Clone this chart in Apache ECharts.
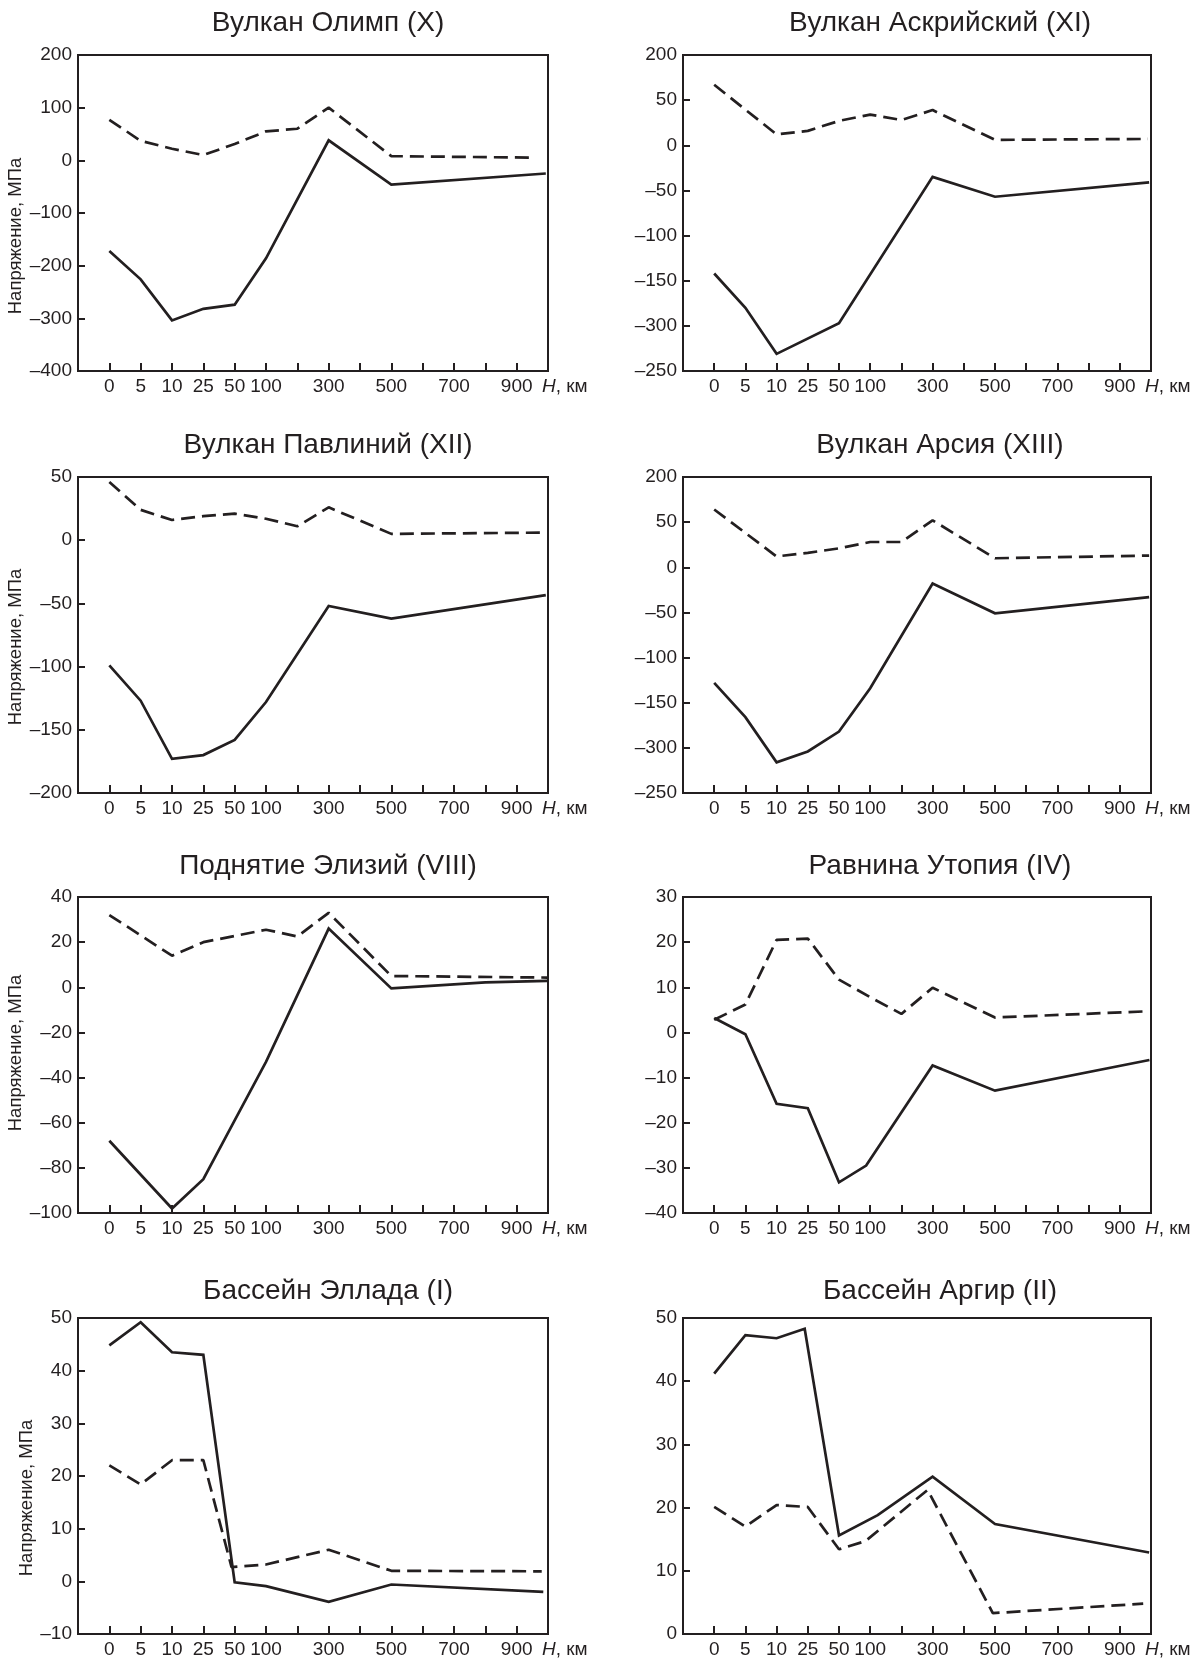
<!DOCTYPE html>
<html><head><meta charset="utf-8">
<script src="https://cdn.jsdelivr.net/npm/echarts@6/dist/echarts.min.js"></script>
<style>html,body{margin:0;padding:0;background:#fff}#c{width:1199px;height:1664px}</style>
</head><body><div id="c"></div>
<script>
// x axis: positions on an evenly spaced depth scale, labels for H, km
const xTickPositions = [0, 1, 2, 3, 4, 5, 7, 9, 11, 13];
const xTickLabels = ['0', '5', '10', '25', '50', '100', '300', '500', '700', '900'];

// Вулкан Олимп (X)
const olympSolidX = [0, 1, 2, 3, 4, 5, 7, 9, 13.93];
const olympSolidY = [-172, -226, -304, -282, -274, -186, 38, -46, -25];
const olympDashX = [0, 1, 2, 3, 4, 5, 6, 7, 9, 13.6];
const olympDashY = [77, 37, 22, 10, 31, 55, 60, 100, 8, 5];
const olympYLabels = ['–400', '–300', '–200', '–100', '0', '100', '200'];

// Вулкан Аскрийский (XI)
const ascraeusSolidX = [0, 1, 2, 4, 7, 9, 13.94];
const ascraeusSolidY = [-142, -180, -231, -197, -35, -57, -41];
const ascraeusDashX = [0, 2, 3, 4, 5, 6, 7, 9, 13.9];
const ascraeusDashY = [67, 12, 16, 27, 34, 28, 39, 6, 7];
const ascraeusYLabels = ['–250', '–300', '–150', '–100', '–50', '0', '50', '200'];

// Вулкан Павлиний (XII)
const pavonisSolidX = [0, 1, 2, 3, 4, 5, 7, 9, 13.93];
const pavonisSolidY = [-99, -127, -173, -170, -158, -128, -52, -62, -43.5];
const pavonisDashX = [0, 1, 2, 3, 4, 5, 6, 7, 9, 13.9];
const pavonisDashY = [46, 24, 16, 19, 21, 17, 11, 26, 5, 6];
const pavonisYLabels = ['–200', '–150', '–100', '–50', '0', '50'];

// Вулкан Арсия (XIII)
const arsiaSolidX = [0, 1, 2, 3, 4, 5, 7, 9, 13.94];
const arsiaSolidY = [-128, -166, -216, -204, -182, -134, -18, -51, -33];
const arsiaDashX = [0, 2, 3, 4, 5, 6, 7, 9, 13.94];
const arsiaDashY = [64, 12, 16, 21, 28, 28, 52, 10, 13];
const arsiaYLabels = ['–250', '–300', '–150', '–100', '–50', '0', '50', '200'];

// Поднятие Элизий (VIII)
const elysiumSolidX = [0, 2, 3, 4, 5, 7, 9, 12, 13.97];
const elysiumSolidY = [-68, -98, -85, -59, -33, 26, -0.5, 2.2, 2.8];
const elysiumDashX = [0, 2, 3, 5, 6, 7, 9, 13.97];
const elysiumDashY = [32, 14, 20, 25.5, 22.5, 33, 5, 4.3];
const elysiumYLabels = ['–100', '–80', '–60', '–40', '–20', '0', '20', '40'];

// Равнина Утопия (IV)
const utopiaSolidX = [0, 1, 2, 3, 4, 4.87, 7, 9, 13.95];
const utopiaSolidY = [3.2, -0.4, -15.8, -16.8, -33.2, -29.5, -7.3, -12.9, -6.1];
const utopiaDashX = [0, 1, 2, 3, 4, 5, 6, 7, 9, 13.95];
const utopiaDashY = [2.8, 6.2, 20.5, 20.8, 11.7, 7.8, 4.1, 9.9, 3.3, 4.7];
const utopiaYLabels = ['–40', '–30', '–20', '–10', '0', '10', '20', '30'];

// Бассейн Эллада (I)
const hellasSolidX = [0, 1, 2, 3, 4, 5, 7, 9, 13.85];
const hellasSolidY = [44.8, 49.2, 43.5, 43, -0.2, -0.9, -3.9, -0.6, -2];
const hellasDashX = [0, 1, 2, 3, 3.9, 5, 7, 9, 13.8];
const hellasDashY = [22, 18.4, 23, 23, 2.7, 3.2, 6, 2, 1.9];
const hellasYLabels = ['–10', '0', '10', '20', '30', '40', '50'];

// Бассейн Аргир (II)
const argyreSolidX = [0, 1, 2, 2.9, 4, 5.24, 7, 9, 13.94];
const argyreSolidY = [41.2, 47.3, 46.8, 48.3, 15.6, 18.8, 24.9, 17.4, 12.9];
const argyreDashX = [0, 1, 2, 3, 4, 4.85, 6.84, 8.93, 13.75];
const argyreDashY = [20.1, 17, 20.4, 20.1, 13.4, 14.7, 22.8, 3.3, 4.8];
const argyreYLabels = ['0', '10', '20', '30', '40', '50'];

const panels = [
  {title: 'Вулкан Олимп (X)', sx: olympSolidX, sy: olympSolidY, dx: olympDashX, dy: olympDashY, yl: olympYLabels, min: -400, max: 200, step: 100},
  {title: 'Вулкан Аскрийский (XI)', sx: ascraeusSolidX, sy: ascraeusSolidY, dx: ascraeusDashX, dy: ascraeusDashY, yl: ascraeusYLabels, min: -250, max: 100, step: 50},
  {title: 'Вулкан Павлиний (XII)', sx: pavonisSolidX, sy: pavonisSolidY, dx: pavonisDashX, dy: pavonisDashY, yl: pavonisYLabels, min: -200, max: 50, step: 50},
  {title: 'Вулкан Арсия (XIII)', sx: arsiaSolidX, sy: arsiaSolidY, dx: arsiaDashX, dy: arsiaDashY, yl: arsiaYLabels, min: -250, max: 100, step: 50},
  {title: 'Поднятие Элизий (VIII)', sx: elysiumSolidX, sy: elysiumSolidY, dx: elysiumDashX, dy: elysiumDashY, yl: elysiumYLabels, min: -100, max: 40, step: 20},
  {title: 'Равнина Утопия (IV)', sx: utopiaSolidX, sy: utopiaSolidY, dx: utopiaDashX, dy: utopiaDashY, yl: utopiaYLabels, min: -40, max: 30, step: 10},
  {title: 'Бассейн Эллада (I)', sx: hellasSolidX, sy: hellasSolidY, dx: hellasDashX, dy: hellasDashY, yl: hellasYLabels, min: -10, max: 50, step: 10},
  {title: 'Бассейн Аргир (II)', sx: argyreSolidX, sy: argyreSolidY, dx: argyreDashX, dy: argyreDashY, yl: argyreYLabels, min: 0, max: 50, step: 10}
];

// layout (pixels)
const W = 1199, H = 1664;
const colLeft = [78, 683];
const colWidth = [470, 468];
const rowTop = [55, 477, 897, 1318];
const rowHeight = 316;
const titleCenterY = [25, 447, 868, 1293];
const titleCenterX = [328, 940];
const yNameShift = [23, 12, -2, 22];

const INK = '#231f20';
const tickFont = '"Liberation Sans", Arial, sans-serif';
const titleFont = '"Liberation Sans", Arial, sans-serif';
const tickSize = 19;

const grids = [], xAxes = [], yAxes = [], series = [], titles = [];
panels.forEach((p, i) => {
  const col = i % 2, row = Math.floor(i / 2);
  const left = colLeft[col], top = rowTop[row], w = colWidth[col];
  grids.push({left: left, top: top, width: w, height: rowHeight, show: true,
    borderColor: INK, borderWidth: 2, backgroundColor: 'transparent', containLabel: false});
  titles.push({text: p.title, left: titleCenterX[col], top: titleCenterY[row] - 15.5, textAlign: 'center', padding: 0,
    textStyle: {fontFamily: titleFont, fontSize: 28, fontWeight: 'normal', color: INK}});
  xAxes.push({type: 'value', gridIndex: i, min: -1, max: 14, interval: 1,
    axisLine: {show: false, onZero: false}, splitLine: {show: false},
    axisTick: {show: true, inside: true, length: 8, lineStyle: {color: INK, width: 2}},
    axisLabel: {show: true, margin: 6, color: INK, fontFamily: tickFont, fontSize: tickSize,
      showMinLabel: true, showMaxLabel: true,
      formatter: v => { const k = xTickPositions.indexOf(Math.round(v)); return (k >= 0 && Math.abs(v - Math.round(v)) < 1e-6) ? xTickLabels[k] : ''; }},
    name: '{i|H}, км', nameLocation: 'end', nameGap: -6,
    nameTextStyle: {color: INK, fontFamily: tickFont, fontSize: tickSize, align: 'left', verticalAlign: 'middle', padding: [31, 0, 0, 0],
      rich: {i: {fontStyle: 'italic', fontFamily: tickFont, fontSize: tickSize, color: INK}}}
  });
  const yAx = {type: 'value', gridIndex: i, min: p.min, max: p.max, interval: p.step,
    axisLine: {show: false, onZero: false}, splitLine: {show: false},
    axisTick: {show: true, inside: true, length: 7, lineStyle: {color: INK, width: 2}},
    axisLabel: {show: true, margin: 6, color: INK, fontFamily: tickFont, fontSize: tickSize,
      formatter: v => { const k = Math.round((v - p.min) / p.step); return p.yl[k] !== undefined ? p.yl[k] : ''; }}
  };
  if (col === 0) {
    yAx.name = 'Напряжение, МПа';
    yAx.nameLocation = 'middle';
    yAx.nameGap = 36;
    yAx.nameRotate = 90;
    yAx.nameTextStyle = {color: INK, fontFamily: titleFont, fontSize: 18.5, padding: [0, 2 * yNameShift[row], 0, 0]};
  }
  yAxes.push(yAx);
  series.push({type: 'line', xAxisIndex: i, yAxisIndex: i, symbol: 'none', silent: true,
    data: p.sx.map((x, k) => [x, p.sy[k]]),
    lineStyle: {color: INK, width: 2.7, type: 'solid', join: 'miter'}});
  series.push({type: 'line', xAxisIndex: i, yAxisIndex: i, symbol: 'none', silent: true,
    data: p.dx.map((x, k) => [x, p.dy[k]]),
    lineStyle: {color: INK, width: 2.7, type: [14, 7]}});
});

const chart = echarts.init(document.getElementById('c'), null, {renderer: 'canvas', width: W, height: H});
chart.setOption({backgroundColor: '#ffffff', animation: false, title: titles, grid: grids, xAxis: xAxes, yAxis: yAxes, series: series});
</script></body></html>
